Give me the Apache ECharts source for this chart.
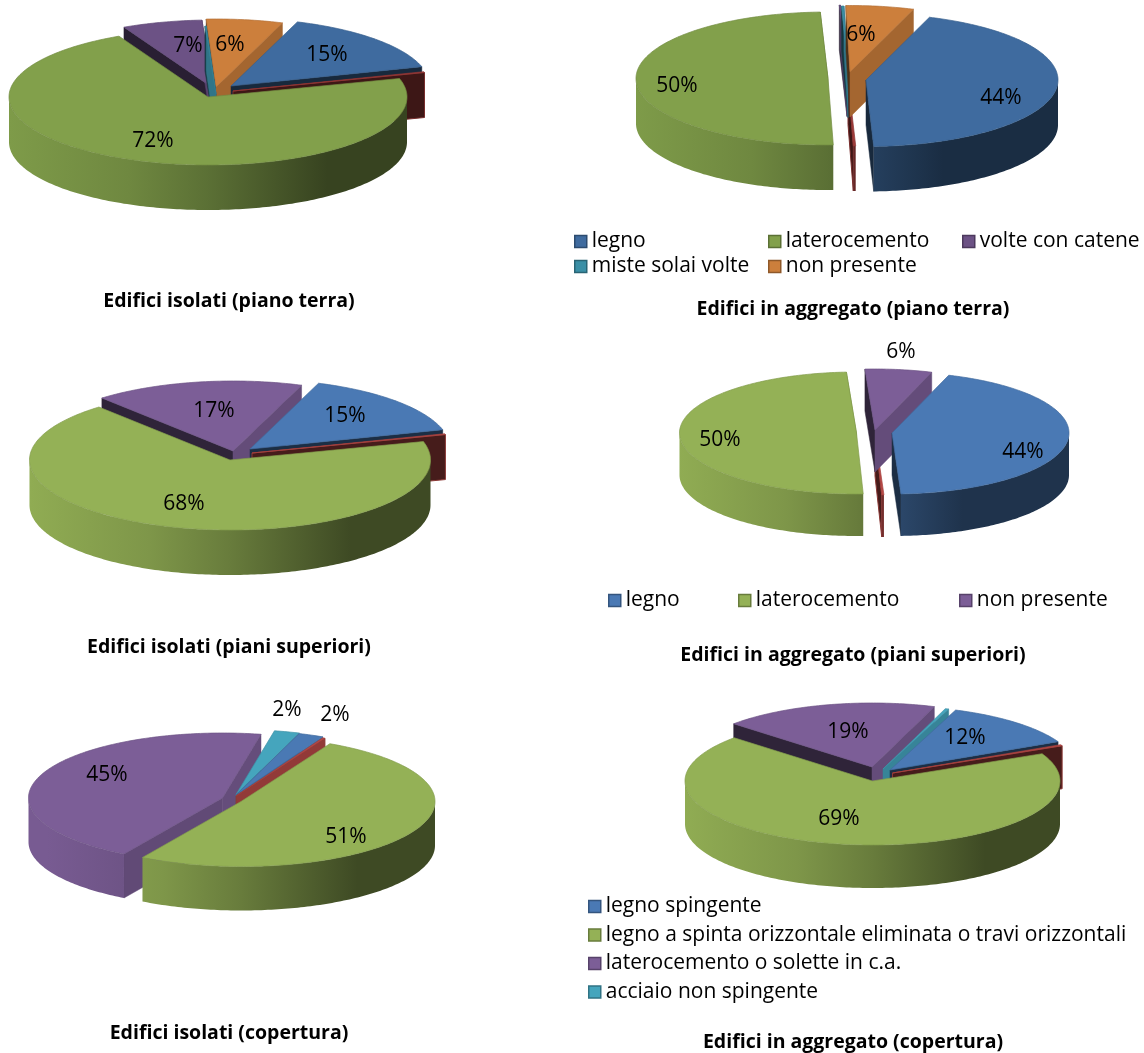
<!DOCTYPE html>
<html><head><meta charset="utf-8">
<style>html,body{margin:0;padding:0;background:#fff}#c{width:1144px;height:1053px}</style>
<script src="https://cdn.jsdelivr.net/npm/echarts@6/dist/echarts.min.js"></script>
</head><body><div id="c"></div>
<script>
// ---- data (percent per slice, clockwise) ----
const names1 = ['legno','altro','laterocemento','volte con catene','miste solai volte','non presente'];
const values1 = [15, 0.2, 72, 6.5, 0.1, 6.2];
const values2 = [44, 0.2, 49.8, 0.1, 0.2, 5.7];
const names3 = ['legno','altro','laterocemento','non presente'];
const values3 = [15, 0.2, 67.9, 16.9];
const values4 = [44, 0.2, 49.7, 6.1];
const names5 = ['legno spingente','altro','legno a spinta orizzontale eliminata o travi orizzontali','laterocemento o solette in c.a.','acciaio non spingente'];
const values5 = [2.1, 0.2, 50.9, 44.7, 2.1];
const values6 = [12, 0.3, 68.8, 18.6, 0.3];
const titles = ['Edifici isolati (piano terra)','Edifici in aggregato (piano terra)','Edifici isolati (piani superiori)','Edifici in aggregato (piani superiori)','Edifici isolati (copertura)','Edifici in aggregato (copertura)'];

// ---- styles ----
const dark = {blue:'#3f6b9f',red:'#a03c3a',green:'#82a04b',purple:'#6c5285',teal:'#3a8fa6',orange:'#cc7f3c'};
const light = {blue:'#4a79b4',red:'#b94a47',green:'#94b156',purple:'#7c5e97',teal:'#45a5bd',orange:'#e08b3f'};
const keys1 = ['blue','red','green','purple','teal','orange'];
const keys3 = ['blue','red','green','purple'];
const keys5 = ['blue','red','green','purple','teal'];
const FONT = '"Open Sans"';

// ---- layout ----
const pies = [
 {names:names1,values:values1,keys:keys1,pal:dark,cx:208,cy:97,rx:199,ry:68,d:45,start:19.5,
  shift:[[23,-11],[25,-6],[0,0],[5,-9],[8,-3],[8,-10]],order:[5,3,4,0,1,2],
  labels:[[327,55],null,[153,141],[188,46],null,[230,45]]},
 {names:names1,values:values2,keys:keys1,pal:dark,cx:828,cy:78.5,rx:192,ry:66.5,d:45,start:19.3,
  shift:[[38,1.5],[20,1],[0,0],[19,-7],[20,-6],[22,-6.5]],order:[1,3,4,5,2,0],
  labels:[[1001,98],null,[677,86],null,null,[861,35]]},
 {names:names3,values:values3,keys:keys3,pal:light,cx:230,cy:460,rx:200.5,ry:70,d:45,start:20,
  shift:[[20,-11],[22,-7],[0,0],[3,-9]],order:[3,0,1,2],
  labels:[[345,416],null,[184,504],[214,411]]},
 {names:names3,values:values4,keys:keys3,pal:light,cx:856.5,cy:433,rx:177,ry:61,d:42,start:18.7,
  shift:[[35.5,0],[18.5,1],[0,0],[18.5,-3]],order:[1,3,2,0],
  labels:[[1023,452],null,[720,440],[901,352]]},
 {names:names5,values:values5,keys:keys5,pal:light,cx:241,cy:801.5,rx:194,ry:65,d:44,start:19,
  shift:[[-5,-6.5],[-5,-5.5],[0,0],[-18.5,-3.5],[-5,-7]],order:[3,4,0,1,2],
  labels:[[335,715],null,[346,837],[107,775],[287,710]]},
 {names:names5,values:values6,keys:keys5,pal:light,cx:872.5,cy:781,rx:187.5,ry:64,d:43,start:20.5,
  shift:[[17.5,-11],[20,-8],[0,0],[-0.5,-14],[10.5,-12]],order:[3,4,0,1,2],
  labels:[[965,738],null,[839,819],[848,732],null]}
];
const titlePos = [[229,301],[853,309],[229,647],[853,655],[229,1033],[853,1042]];

function mul(hex,k){
  const n=parseInt(hex.slice(1),16);
  const c=[(n>>16)&255,(n>>8)&255,n&255].map(v=>Math.round(v*k));
  return 'rgb('+c.join(',')+')';
}
const rad=a=>a*Math.PI/180;
function rim(ax,ay,p,t){return [ax+p.rx*Math.sin(rad(t)),ay-p.ry*Math.cos(rad(t))];}
function edgeShade(nx){return nx<0.5?0.38:0.55+0.27*nx;}

function sliceChildren(p,i,value,total,t0){
  const t1=t0+value/total*360, base=p.pal[p.keys[i]];
  const ax=p.cx+p.shift[i][0], ay=p.cy+p.shift[i][1], kids=[];
  const isRed=p.keys[i]==='red';
  const cut=(t,nx,visible)=>{
    if(!visible) return;
    const r=rim(ax,ay,p,t), c=mul(base,edgeShade(nx));
    kids.push({type:'polygon',shape:{points:[[ax,ay],r,[r[0],r[1]+p.d],[ax,ay+p.d]]},
      style:{fill:c,stroke:isRed?mul(base,0.75):c,lineWidth:isRed?1:0.5}});
  };
  cut(t0,-Math.cos(rad(t0)),Math.sin(rad(t0))<0.02);
  cut(t1,Math.cos(rad(t1)),Math.sin(rad(t1))>-0.06);
  // outer wall, only where the rim faces the viewer
  for(let k=-1;k<=2;k++){
    const a=Math.max(t0,90+360*k), b=Math.min(t1,270+360*k);
    if(b<=a) continue;
    const top=[],bot=[];
    for(let t=a;;t+=1){const tt=Math.min(t,b);const r=rim(ax,ay,p,tt);top.push(r);bot.unshift([r[0],r[1]+p.d]);if(tt>=b)break;}
    kids.push({type:'polygon',shape:{points:top.concat(bot)},style:{
      fill:{type:'linear',global:true,x:p.cx-p.rx,y:0,x2:p.cx+p.rx,y2:0,colorStops:[
        {offset:0,color:mul(base,0.97)},{offset:0.3,color:mul(base,0.85)},{offset:0.5,color:mul(base,0.7)},
        {offset:0.8,color:mul(base,0.42)},{offset:1,color:mul(base,0.42)}]}}});
  }
  // top face
  const pts=[[ax,ay]];
  for(let t=t0;;t+=1){const tt=Math.min(t,t1);pts.push(rim(ax,ay,p,tt));if(tt>=t1)break;}
  kids.push({type:'polygon',shape:{points:pts},style:{fill:base,stroke:mul(base,0.88),lineWidth:0.7}});
  return kids;
}

const series=[];
pies.forEach((p,pi)=>{
  const total=p.values.reduce((a,b)=>a+b,0);
  let acc=p.start; const starts=p.values.map(v=>{const s=acc;acc+=v/total*360;return s;});
  p.values.forEach((v,i)=>{
    series.push({type:'custom',name:p.names[i],coordinateSystem:'none',silent:true,
      z:2+p.order.indexOf(i),data:[[v]],animation:false,
      renderItem:(params,api)=>({type:'group',children:sliceChildren(p,i,api.value(0),total,starts[i])})});
  });
  series.push({type:'custom',name:'etichette '+(pi+1),coordinateSystem:'none',silent:true,z:20,animation:false,
    data:p.values.map(v=>[v]),
    renderItem:(params,api)=>{
      const at=p.labels[params.dataIndex];
      if(!at) return {type:'group',children:[]};
      return {type:'text',style:{x:at[0],y:at[1],text:Math.round(api.value(0)/total*100)+'%',fill:'#000',
        fontFamily:FONT,fontSize:21,align:'center',verticalAlign:'middle'}};
    }});
});

const legendText={color:'#000',fontFamily:FONT,fontSize:21,padding:[0,0,0,0]};
const entry=(name,c)=>({name,itemStyle:{color:c,borderColor:mul(c,0.7),borderWidth:1.5}});
function legend(left,top,items,gap){
  return {left,top,orient:'vertical',itemGap:gap||6,itemWidth:12,itemHeight:12,icon:'rect',selectedMode:false,
    padding:0,data:items,textStyle:legendText};
}
const legends=[
 legend(574,231,[entry('legno',dark.blue),entry('miste solai volte',dark.teal)],4),
 legend(768,231,[entry('laterocemento',dark.green),entry('non presente',dark.orange)],4),
 legend(962,231,[entry('volte con catene',dark.purple)]),
 legend(608,590,[entry('legno',light.blue)]),
 legend(738,590,[entry('laterocemento',light.green)]),
 legend(959,590,[entry('non presente',light.purple)]),
 legend(588,896,[entry('legno spingente',light.blue),entry('legno a spinta orizzontale eliminata o travi orizzontali',light.green),
   entry('laterocemento o solette in c.a.',light.purple),entry('acciaio non spingente',light.teal)],7.5)
];

const chart=echarts.init(document.getElementById('c'),null,{renderer:'canvas'});
chart.setOption({
  animation:false,
  title:titles.map((t,i)=>({text:t,left:titlePos[i][0],top:titlePos[i][1]-10,textAlign:'center',padding:0,
    textStyle:{fontFamily:FONT,fontSize:19.5,fontWeight:'bold',color:'#000'}})),
  legend:legends,
  series
});
</script></body></html>
